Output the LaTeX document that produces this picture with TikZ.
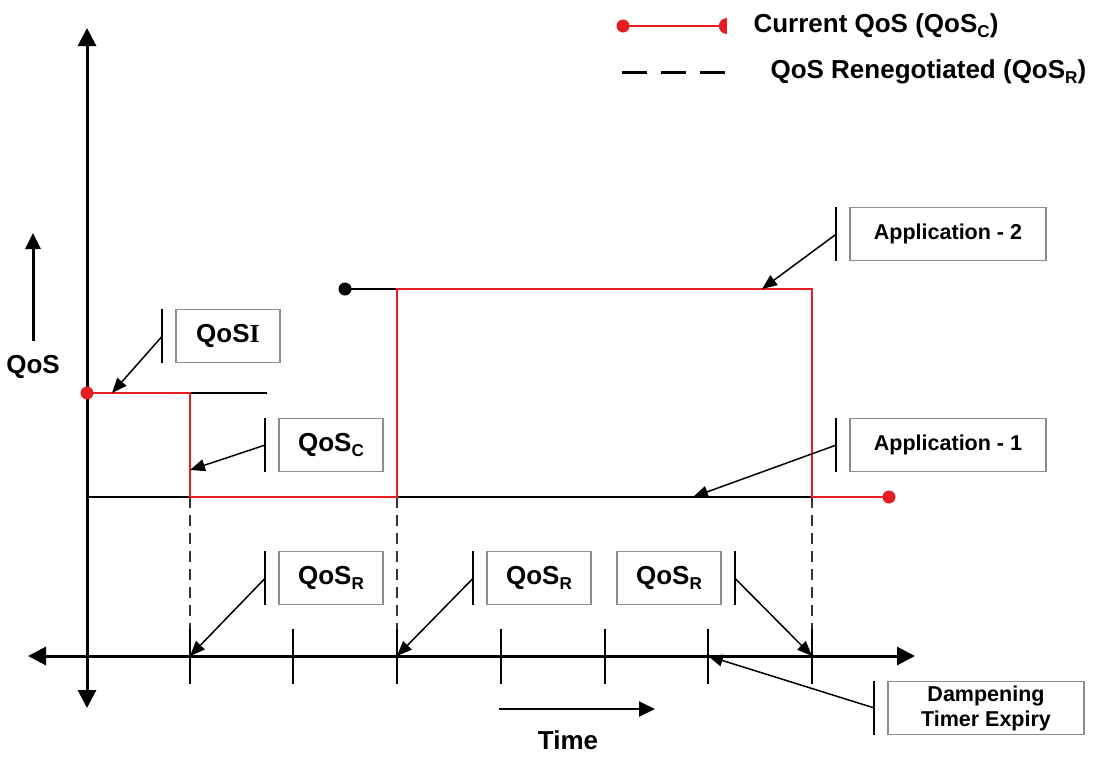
\documentclass[tikz,border=0pt]{standalone}
\usepackage{fontspec}
\setmainfont{Liberation Sans}
\newfontfamily\serifbold{Liberation Serif}
\usepackage{tikz}
\usetikzlibrary{arrows.meta, positioning, shapes.geometric}
\usepackage{xcolor}
\definecolor{qosred}{RGB}{230,30,35}
\definecolor{boxgray}{RGB}{140,140,140}
\newcommand{\qsub}[1]{\raisebox{-0.35ex}{\scalebox{0.66}{#1}}}
\tikzset{
    % Axes
    axisline/.style={line width=3pt, {Triangle[length=18pt,width=18pt]}-{Triangle[length=18pt,width=18pt]}},
    dirarrow/.style={-{Triangle[length=16pt,width=15pt]}, line width=#1},
    tickmark/.style={line width=1.8pt},
    biglbl/.style={font=\bfseries\fontsize{26}{30}\selectfont},
    % QoS curves
    curline/.style={draw=qosred, line width=1.8pt},
    blkline/.style={draw=black, line width=1.8pt},
    renline/.style={draw=black!80, line width=1.8pt, dash pattern=on 11pt off 7pt},
    enddot/.style={circle, fill=#1, inner sep=0pt, minimum size=13pt},
    % Callouts
    qbox/.style={rectangle, draw=boxgray, line width=1.3pt, minimum width=104pt,
                minimum height=53pt, font=\bfseries\fontsize{26}{30}\selectfont},
    abox/.style={rectangle, draw=boxgray, line width=1.3pt, minimum width=196pt,
                minimum height=53pt, align=center, font=\bfseries\fontsize{21.5}{25}\selectfont},
    callbar/.style={line width=1.8pt},
    callarrow/.style={-{Triangle[length=15pt,width=12pt]}, line width=1.5pt},
}

\begin{document}
\begin{tikzpicture}[x=1pt, y=-1pt]
\useasboundingbox (0,0) rectangle (1100,756);

% Legend
\coordinate (lgA) at (623,26);
\coordinate (lgB) at (727,26);
\coordinate (lgC) at (622,72);
\coordinate (lgD) at (727,72);
\draw[curline] (lgA) -- (lgB);
\node[enddot=qosred] (lgAdot) at (lgA) {};
\node[semicircle, fill=qosred, shape border rotate=90, minimum size=8pt,
      inner sep=0pt, anchor=chord center] (lgBtip) at (lgB) {};
\draw[black, line width=3pt, dash pattern=on 25pt off 14pt] (lgC) -- (lgD);
\node[biglbl, anchor=west] (lgCur) at (750,26) {Current QoS (QoS\qsub{C})};
\node[biglbl, anchor=west] (lgRen) at (767,72) {QoS Renegotiated (QoS\qsub{R})};

% Axes
\draw[axisline] (28,656) -- (915,656);
\draw[axisline] (87,708) -- (87,28);
\coordinate (upS) at (33,341);
\coordinate (upE) at (33,233);
\draw[dirarrow=3pt] (upS) -- (upE);
\node[biglbl] (qlbl) at (33,367) {QoS};
\coordinate (tmS) at (499,709);
\coordinate (tmE) at (655,709);
\draw[dirarrow=2pt] (tmS) -- (tmE);
\node[biglbl] (tlbl) at (568,740) {Time};

% Renegotiation instants
\foreach \dx in {190,397,812}
    \draw[renline] (\dx,497) -- (\dx,656);
\foreach \tx [count=\i] in {190,293,397,501,605,708,812} {
    \coordinate (t\i) at (\tx,656);
    \draw[tickmark] (\tx,629) -- (\tx,684);
}

% Application levels
\draw[blkline] (87,497) -- (812,497);
\draw[blkline] (87,393) -- (267,393);
\draw[blkline] (345,289) -- (397,289);
\node[enddot=black] (a2dot) at (345,289) {};

% Current QoS
\draw[curline] (87,393) -- (190,393) -- (190,497) -- (397,497) -- (397,289)
    -- (812,289) -- (812,497) -- (889,497);
\node[enddot=qosred] (cStart) at (87,393) {};
\node[enddot=qosred] (cEnd) at (889,497) {};

% Points the callouts refer to
\coordinate (pI) at (112,393);
\coordinate (pC) at (190,470);
\coordinate (pA2) at (762,289);
\coordinate (pA1) at (693,497);

% Callout boxes
\node[qbox] (qI)  at (228,336) {QoS{\serifbold I}};
\node[qbox] (qC)  at (331,445) {QoS\qsub{C}};
\node[qbox] (qR1) at (331,578) {QoS\qsub{R}};
\node[qbox] (qR2) at (539,578) {QoS\qsub{R}};
\node[qbox] (qR3) at (669,578) {QoS\qsub{R}};
\node[abox] (app2) at (948,234) {Application - 2};
\node[abox] (app1) at (948,445) {Application - 1};
\node[abox] (damp) at (986,708) {Dampening\\Timer Expiry};

% Callout bars
\foreach \b in {qI,qC,qR1,qR2,app2,app1,damp}
    \draw[callbar] ([xshift=-13pt]\b.north west) -- ([xshift=-13pt]\b.south west);
\draw[callbar] ([xshift=13pt]qR3.north east) -- ([xshift=13pt]qR3.south east);

% Callout arrows
\draw[callarrow] ([xshift=-13pt]qI.west) -- (pI);
\draw[callarrow] ([xshift=-13pt]qC.west) -- (pC);
\draw[callarrow] ([xshift=-13pt]qR1.west) -- (t1);
\draw[callarrow] ([xshift=-13pt]qR2.west) -- (t3);
\draw[callarrow] ([xshift=13pt]qR3.east) -- (t7);
\draw[callarrow] ([xshift=-13pt]app2.west) -- (pA2);
\draw[callarrow] ([xshift=-13pt]app1.west) -- (pA1);
\draw[callarrow] ([xshift=-13pt]damp.west) -- (t6);
\end{tikzpicture}
\end{document}
